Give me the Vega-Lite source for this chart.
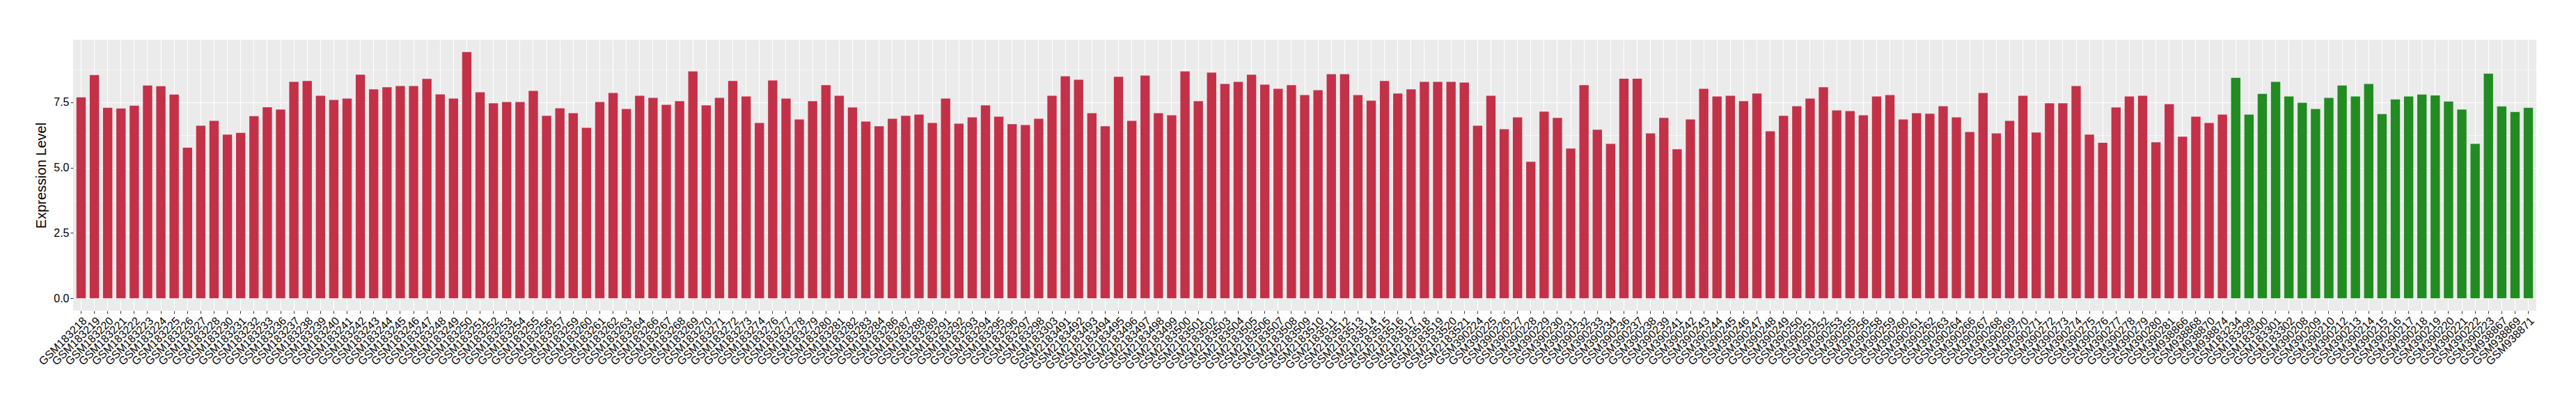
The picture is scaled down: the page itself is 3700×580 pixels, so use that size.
{
  "$schema": "https://vega.github.io/schema/vega-lite/v6.json",
  "width": 3538,
  "height": 389,
  "autosize": {"type": "none"},
  "padding": {"left": 105, "top": 57, "right": 57, "bottom": 134},
  "background": "white",
  "config": {"font": "Liberation Sans", "view": {"fill": "#EBEBEB", "stroke": null}},
  "data": {"values": [
    {"sample": "GSM183218", "value": 7.69, "group": "G1"},
    {"sample": "GSM183219", "value": 8.54, "group": "G1"},
    {"sample": "GSM183220", "value": 7.29, "group": "G1"},
    {"sample": "GSM183221", "value": 7.26, "group": "G1"},
    {"sample": "GSM183222", "value": 7.37, "group": "G1"},
    {"sample": "GSM183223", "value": 8.14, "group": "G1"},
    {"sample": "GSM183224", "value": 8.11, "group": "G1"},
    {"sample": "GSM183225", "value": 7.79, "group": "G1"},
    {"sample": "GSM183226", "value": 5.76, "group": "G1"},
    {"sample": "GSM183227", "value": 6.60, "group": "G1"},
    {"sample": "GSM183228", "value": 6.79, "group": "G1"},
    {"sample": "GSM183230", "value": 6.26, "group": "G1"},
    {"sample": "GSM183231", "value": 6.33, "group": "G1"},
    {"sample": "GSM183232", "value": 6.97, "group": "G1"},
    {"sample": "GSM183233", "value": 7.31, "group": "G1"},
    {"sample": "GSM183236", "value": 7.22, "group": "G1"},
    {"sample": "GSM183237", "value": 8.28, "group": "G1"},
    {"sample": "GSM183238", "value": 8.31, "group": "G1"},
    {"sample": "GSM183239", "value": 7.75, "group": "G1"},
    {"sample": "GSM183240", "value": 7.59, "group": "G1"},
    {"sample": "GSM183241", "value": 7.64, "group": "G1"},
    {"sample": "GSM183242", "value": 8.55, "group": "G1"},
    {"sample": "GSM183243", "value": 7.99, "group": "G1"},
    {"sample": "GSM183244", "value": 8.07, "group": "G1"},
    {"sample": "GSM183245", "value": 8.12, "group": "G1"},
    {"sample": "GSM183246", "value": 8.12, "group": "G1"},
    {"sample": "GSM183247", "value": 8.39, "group": "G1"},
    {"sample": "GSM183248", "value": 7.80, "group": "G1"},
    {"sample": "GSM183249", "value": 7.64, "group": "G1"},
    {"sample": "GSM183250", "value": 9.42, "group": "G1"},
    {"sample": "GSM183251", "value": 7.88, "group": "G1"},
    {"sample": "GSM183252", "value": 7.46, "group": "G1"},
    {"sample": "GSM183253", "value": 7.51, "group": "G1"},
    {"sample": "GSM183254", "value": 7.51, "group": "G1"},
    {"sample": "GSM183255", "value": 7.93, "group": "G1"},
    {"sample": "GSM183256", "value": 6.98, "group": "G1"},
    {"sample": "GSM183257", "value": 7.27, "group": "G1"},
    {"sample": "GSM183259", "value": 7.08, "group": "G1"},
    {"sample": "GSM183260", "value": 6.52, "group": "G1"},
    {"sample": "GSM183261", "value": 7.51, "group": "G1"},
    {"sample": "GSM183262", "value": 7.85, "group": "G1"},
    {"sample": "GSM183263", "value": 7.24, "group": "G1"},
    {"sample": "GSM183264", "value": 7.75, "group": "G1"},
    {"sample": "GSM183266", "value": 7.67, "group": "G1"},
    {"sample": "GSM183267", "value": 7.40, "group": "G1"},
    {"sample": "GSM183268", "value": 7.54, "group": "G1"},
    {"sample": "GSM183269", "value": 8.68, "group": "G1"},
    {"sample": "GSM183270", "value": 7.38, "group": "G1"},
    {"sample": "GSM183271", "value": 7.67, "group": "G1"},
    {"sample": "GSM183272", "value": 8.31, "group": "G1"},
    {"sample": "GSM183273", "value": 7.72, "group": "G1"},
    {"sample": "GSM183274", "value": 6.71, "group": "G1"},
    {"sample": "GSM183276", "value": 8.33, "group": "G1"},
    {"sample": "GSM183277", "value": 7.64, "group": "G1"},
    {"sample": "GSM183278", "value": 6.84, "group": "G1"},
    {"sample": "GSM183279", "value": 7.54, "group": "G1"},
    {"sample": "GSM183280", "value": 8.15, "group": "G1"},
    {"sample": "GSM183281", "value": 7.75, "group": "G1"},
    {"sample": "GSM183282", "value": 7.30, "group": "G1"},
    {"sample": "GSM183283", "value": 6.76, "group": "G1"},
    {"sample": "GSM183284", "value": 6.58, "group": "G1"},
    {"sample": "GSM183286", "value": 6.87, "group": "G1"},
    {"sample": "GSM183287", "value": 6.98, "group": "G1"},
    {"sample": "GSM183288", "value": 7.03, "group": "G1"},
    {"sample": "GSM183289", "value": 6.71, "group": "G1"},
    {"sample": "GSM183291", "value": 7.64, "group": "G1"},
    {"sample": "GSM183292", "value": 6.68, "group": "G1"},
    {"sample": "GSM183293", "value": 6.92, "group": "G1"},
    {"sample": "GSM183294", "value": 7.38, "group": "G1"},
    {"sample": "GSM183295", "value": 6.95, "group": "G1"},
    {"sample": "GSM183296", "value": 6.66, "group": "G1"},
    {"sample": "GSM183297", "value": 6.63, "group": "G1"},
    {"sample": "GSM183298", "value": 6.87, "group": "G1"},
    {"sample": "GSM183303", "value": 7.75, "group": "G1"},
    {"sample": "GSM2183491", "value": 8.49, "group": "G1"},
    {"sample": "GSM2183492", "value": 8.36, "group": "G1"},
    {"sample": "GSM2183493", "value": 7.08, "group": "G1"},
    {"sample": "GSM2183494", "value": 6.58, "group": "G1"},
    {"sample": "GSM2183495", "value": 8.47, "group": "G1"},
    {"sample": "GSM2183496", "value": 6.79, "group": "G1"},
    {"sample": "GSM2183497", "value": 8.52, "group": "G1"},
    {"sample": "GSM2183498", "value": 7.08, "group": "G1"},
    {"sample": "GSM2183499", "value": 7.00, "group": "G1"},
    {"sample": "GSM2183500", "value": 8.68, "group": "G1"},
    {"sample": "GSM2183501", "value": 7.54, "group": "G1"},
    {"sample": "GSM2183502", "value": 8.63, "group": "G1"},
    {"sample": "GSM2183503", "value": 8.20, "group": "G1"},
    {"sample": "GSM2183504", "value": 8.28, "group": "G1"},
    {"sample": "GSM2183505", "value": 8.55, "group": "G1"},
    {"sample": "GSM2183506", "value": 8.17, "group": "G1"},
    {"sample": "GSM2183507", "value": 8.01, "group": "G1"},
    {"sample": "GSM2183508", "value": 8.15, "group": "G1"},
    {"sample": "GSM2183509", "value": 7.77, "group": "G1"},
    {"sample": "GSM2183510", "value": 7.96, "group": "G1"},
    {"sample": "GSM2183511", "value": 8.57, "group": "G1"},
    {"sample": "GSM2183512", "value": 8.57, "group": "G1"},
    {"sample": "GSM2183513", "value": 7.77, "group": "G1"},
    {"sample": "GSM2183514", "value": 7.56, "group": "G1"},
    {"sample": "GSM2183515", "value": 8.31, "group": "G1"},
    {"sample": "GSM2183516", "value": 7.83, "group": "G1"},
    {"sample": "GSM2183517", "value": 7.99, "group": "G1"},
    {"sample": "GSM2183518", "value": 8.28, "group": "G1"},
    {"sample": "GSM2183519", "value": 8.28, "group": "G1"},
    {"sample": "GSM2183520", "value": 8.28, "group": "G1"},
    {"sample": "GSM2183521", "value": 8.25, "group": "G1"},
    {"sample": "GSM390224", "value": 6.60, "group": "G1"},
    {"sample": "GSM390225", "value": 7.75, "group": "G1"},
    {"sample": "GSM390226", "value": 6.47, "group": "G1"},
    {"sample": "GSM390227", "value": 6.92, "group": "G1"},
    {"sample": "GSM390228", "value": 5.22, "group": "G1"},
    {"sample": "GSM390229", "value": 7.14, "group": "G1"},
    {"sample": "GSM390230", "value": 6.90, "group": "G1"},
    {"sample": "GSM390231", "value": 5.73, "group": "G1"},
    {"sample": "GSM390232", "value": 8.15, "group": "G1"},
    {"sample": "GSM390233", "value": 6.45, "group": "G1"},
    {"sample": "GSM390234", "value": 5.91, "group": "G1"},
    {"sample": "GSM390236", "value": 8.40, "group": "G1"},
    {"sample": "GSM390237", "value": 8.40, "group": "G1"},
    {"sample": "GSM390238", "value": 6.31, "group": "G1"},
    {"sample": "GSM390239", "value": 6.90, "group": "G1"},
    {"sample": "GSM390241", "value": 5.70, "group": "G1"},
    {"sample": "GSM390242", "value": 6.84, "group": "G1"},
    {"sample": "GSM390243", "value": 8.01, "group": "G1"},
    {"sample": "GSM390244", "value": 7.72, "group": "G1"},
    {"sample": "GSM390245", "value": 7.75, "group": "G1"},
    {"sample": "GSM390246", "value": 7.54, "group": "G1"},
    {"sample": "GSM390247", "value": 7.83, "group": "G1"},
    {"sample": "GSM390248", "value": 6.39, "group": "G1"},
    {"sample": "GSM390249", "value": 6.98, "group": "G1"},
    {"sample": "GSM390250", "value": 7.35, "group": "G1"},
    {"sample": "GSM390251", "value": 7.64, "group": "G1"},
    {"sample": "GSM390252", "value": 8.07, "group": "G1"},
    {"sample": "GSM390253", "value": 7.19, "group": "G1"},
    {"sample": "GSM390255", "value": 7.16, "group": "G1"},
    {"sample": "GSM390256", "value": 7.00, "group": "G1"},
    {"sample": "GSM390258", "value": 7.72, "group": "G1"},
    {"sample": "GSM390259", "value": 7.77, "group": "G1"},
    {"sample": "GSM390260", "value": 6.84, "group": "G1"},
    {"sample": "GSM390261", "value": 7.08, "group": "G1"},
    {"sample": "GSM390262", "value": 7.06, "group": "G1"},
    {"sample": "GSM390263", "value": 7.35, "group": "G1"},
    {"sample": "GSM390264", "value": 6.92, "group": "G1"},
    {"sample": "GSM390266", "value": 6.36, "group": "G1"},
    {"sample": "GSM390267", "value": 7.85, "group": "G1"},
    {"sample": "GSM390268", "value": 6.31, "group": "G1"},
    {"sample": "GSM390269", "value": 6.79, "group": "G1"},
    {"sample": "GSM390270", "value": 7.75, "group": "G1"},
    {"sample": "GSM390271", "value": 6.34, "group": "G1"},
    {"sample": "GSM390272", "value": 7.46, "group": "G1"},
    {"sample": "GSM390273", "value": 7.46, "group": "G1"},
    {"sample": "GSM390274", "value": 8.12, "group": "G1"},
    {"sample": "GSM390275", "value": 6.26, "group": "G1"},
    {"sample": "GSM390276", "value": 5.95, "group": "G1"},
    {"sample": "GSM390277", "value": 7.30, "group": "G1"},
    {"sample": "GSM390278", "value": 7.72, "group": "G1"},
    {"sample": "GSM390279", "value": 7.75, "group": "G1"},
    {"sample": "GSM390280", "value": 5.97, "group": "G1"},
    {"sample": "GSM390281", "value": 7.43, "group": "G1"},
    {"sample": "GSM938866", "value": 6.18, "group": "G1"},
    {"sample": "GSM938868", "value": 6.95, "group": "G1"},
    {"sample": "GSM938870", "value": 6.71, "group": "G1"},
    {"sample": "GSM938874", "value": 7.03, "group": "G1"},
    {"sample": "GSM183234", "value": 8.43, "group": "G2"},
    {"sample": "GSM183299", "value": 7.03, "group": "G2"},
    {"sample": "GSM183300", "value": 7.82, "group": "G2"},
    {"sample": "GSM183301", "value": 8.28, "group": "G2"},
    {"sample": "GSM183302", "value": 7.72, "group": "G2"},
    {"sample": "GSM390208", "value": 7.48, "group": "G2"},
    {"sample": "GSM390209", "value": 7.24, "group": "G2"},
    {"sample": "GSM390210", "value": 7.67, "group": "G2"},
    {"sample": "GSM390212", "value": 8.14, "group": "G2"},
    {"sample": "GSM390213", "value": 7.72, "group": "G2"},
    {"sample": "GSM390214", "value": 8.20, "group": "G2"},
    {"sample": "GSM390215", "value": 7.05, "group": "G2"},
    {"sample": "GSM390216", "value": 7.61, "group": "G2"},
    {"sample": "GSM390217", "value": 7.72, "group": "G2"},
    {"sample": "GSM390218", "value": 7.79, "group": "G2"},
    {"sample": "GSM390219", "value": 7.76, "group": "G2"},
    {"sample": "GSM390220", "value": 7.53, "group": "G2"},
    {"sample": "GSM390221", "value": 7.22, "group": "G2"},
    {"sample": "GSM390222", "value": 5.91, "group": "G2"},
    {"sample": "GSM390223", "value": 8.59, "group": "G2"},
    {"sample": "GSM938867", "value": 7.34, "group": "G2"},
    {"sample": "GSM938869", "value": 7.13, "group": "G2"},
    {"sample": "GSM938871", "value": 7.29, "group": "G2"}
  ]},
  "encoding": {
    "x": {"field": "sample", "type": "nominal", "sort": null,
          "scale": {"paddingInner": 0.3, "paddingOuter": 0.25},
          "axis": {"title": null, "labelAngle": -45, "labelAlign": "right", "labelBaseline": "top",
                   "labelFontSize": 16, "labelColor": "#000000", "labelPadding": 2,
                   "labelOverlap": false, "labelBound": false, "labelFlush": false, "labelLimit": 0,
                   "tickColor": "#333333", "tickSize": 4, "tickWidth": 1,
                   "grid": true, "gridColor": "#FFFFFF", "gridWidth": 1.1, "domain": false}}
  },
  "layer": [
    {
      "mark": {"type": "bar", "opacity": 0},
      "encoding": {
        "y": {"field": "value", "type": "quantitative",
              "scale": {"domain": [-0.471, 9.891], "nice": false, "zero": false},
              "axis": {"orient": "right", "values": [1.25, 3.75, 6.25, 8.75], "grid": true,
                       "gridColor": "#FFFFFF", "gridWidth": 0.55, "labels": false, "ticks": false,
                       "domain": false, "title": null}}
      }
    },
    {
      "mark": {"type": "bar"},
      "encoding": {
        "y": {"field": "value", "type": "quantitative",
              "scale": {"domain": [-0.471, 9.891], "nice": false, "zero": false},
              "axis": {"orient": "left", "values": [0, 2.5, 5, 7.5], "format": ".1f",
                       "title": "Expression Level", "titleFontSize": 20, "titleFontWeight": "normal",
                       "titleColor": "#000000", "titlePadding": 7,
                       "labelFontSize": 16, "labelColor": "#000000", "labelPadding": 2,
                       "tickColor": "#333333", "tickSize": 4, "tickWidth": 1,
                       "grid": true, "gridColor": "#FFFFFF", "gridWidth": 1.1, "domain": false}},
        "y2": {"datum": 0},
        "color": {"field": "group", "type": "nominal",
                  "scale": {"domain": ["G1", "G2"], "range": ["#C33149", "#228B22"]},
                  "legend": null}
      }
    }
  ],
  "resolve": {"axis": {"y": "independent"}}
}
